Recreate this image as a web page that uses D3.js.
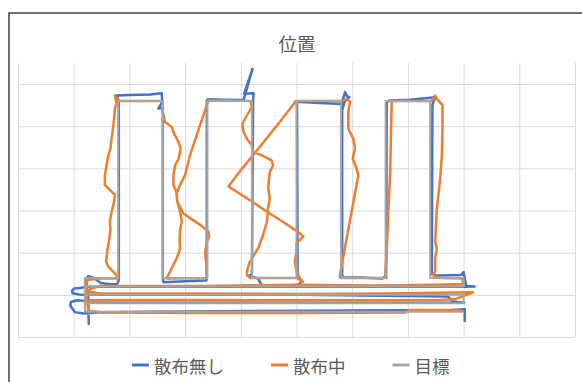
<!DOCTYPE html>
<html><head><meta charset="utf-8">
<script src="https://cdn.jsdelivr.net/npm/d3@7"></script>
<style>html,body{margin:0;padding:0;background:#fff;} svg{display:block;}</style>
</head><body>
<svg id="c" width="582" height="382"></svg>
<script>
// ---------- data ----------
const chartTitle = "位置";
const seriesNames = ["散布無し", "散布中", "目標"];
const seriesColors = ["#4472C4", "#ED7D31", "#A5A5A5"];
const xDomain = [0, 10];
const yDomain = [0, 6.5];
const xTicks = [0, 1, 2, 3, 4, 5, 6, 7, 8, 9, 10];
const yTicks = [0, 1, 2, 3, 4, 5, 6];

// 散布無し
const blueX = [8.02,8.02,7.79,5.06,2.37,1.47,1.18,1.02,0.94,0.95,1.06,1.26,1.27,1.26,1.23,1.22,1.26,1.36,1.49,1.65,
  1.78,1.81,1.81,1.77,2.01,2.37,2.58,2.59,2.52,2.60,2.60,2.61,3.00,3.38,3.39,3.39,3.41,3.72,4.01,4.05,
  4.21,4.06,4.23,4.22,4.20,4.15,4.31,4.36,4.40,4.88,5.06,5.09,5.02,5.01,4.98,5.42,5.81,5.83,5.87,5.91,
  5.95,5.87,5.82,5.82,5.78,6.14,6.55,6.61,6.62,6.68,7.04,7.49,7.44,7.43,7.52,7.96,8.00,8.03,8.05,8.20,
  8.01,5.06,1.22,1.11,1.01,0.97,0.98,1.10,1.22,5.06,7.72,7.81,8.01,5.06,1.22];
const blueY = [0.38,0.66,0.64,0.62,0.60,0.59,0.56,0.59,0.74,0.83,0.87,0.85,0.31,0.93,1.16,1.38,1.44,1.40,1.28,1.25,
  1.26,1.35,5.60,5.73,5.74,5.75,5.78,5.58,5.42,5.43,1.40,1.30,1.32,1.34,1.40,5.60,5.64,5.63,5.62,5.62,
  6.36,5.77,5.78,5.60,1.49,1.45,1.39,1.26,1.20,1.21,1.25,1.35,1.40,5.58,5.58,5.55,5.53,5.62,5.81,5.71,
  5.69,5.60,5.39,1.45,1.42,1.41,1.39,1.47,5.58,5.61,5.63,5.69,5.50,1.49,1.46,1.47,1.54,1.33,1.21,1.20,
  1.19,1.19,1.19,1.16,1.15,1.10,1.04,1.01,1.00,1.00,0.96,0.84,0.81,0.81,0.81];

// 散布中
const orangeX = [7.97,7.79,7.04,6.95,5.06,3.27,1.54,1.26,1.23,1.24,1.47,1.80,1.74,1.62,1.58,1.60,1.64,1.66,1.65,1.68,
  1.72,1.74,1.65,1.56,1.56,1.60,1.62,1.66,1.68,1.72,1.74,1.77,1.74,1.81,2.60,2.60,2.64,2.76,2.79,2.88,
  2.92,2.88,2.82,2.79,2.79,2.84,2.86,2.91,2.94,2.91,2.90,2.91,2.85,2.76,2.67,3.39,3.38,3.36,3.39,3.43,
  3.42,3.27,3.09,2.97,2.86,2.85,2.91,3.00,3.09,3.42,4.17,4.20,4.11,4.03,4.04,4.11,4.20,4.22,4.38,4.55,
  4.58,4.52,4.49,4.52,4.49,4.47,4.40,4.31,4.22,4.15,4.11,4.11,4.17,5.01,5.12,5.06,5.00,4.97,5.00,5.00,
  5.06,5.12,5.06,4.70,4.52,4.11,3.78,3.93,4.70,4.99,5.82,5.90,5.96,5.93,5.93,6.02,6.05,6.01,6.08,6.11,
  5.78,5.82,6.62,6.59,6.62,6.65,6.68,6.71,7.43,7.49,7.52,7.62,7.62,7.61,7.58,7.52,7.49,7.52,7.49,7.49,
  7.45,7.58,7.97,8.00,7.52,6.40,5.06,3.20,1.47,1.29,1.26,1.47,3.00,5.06,6.60,8.17,7.85,7.58,5.06,3.00,1.22];
const orangeY = [0.62,0.64,0.64,0.58,0.57,0.57,0.58,0.62,1.00,1.35,1.39,1.39,1.51,1.67,1.79,2.02,2.34,2.54,2.74,2.97,
  3.17,3.37,3.49,3.61,3.84,4.15,4.31,4.47,4.70,5.10,5.42,5.54,5.73,5.60,5.60,5.34,5.10,4.98,4.86,4.63,
  4.46,4.22,4.07,3.84,3.61,3.45,3.21,2.97,2.74,2.54,2.30,2.10,1.87,1.63,1.39,1.40,1.71,2.02,2.26,2.38,
  2.50,2.66,2.82,2.93,3.21,3.41,3.61,3.84,4.32,5.62,5.60,5.46,5.26,5.06,4.90,4.70,4.55,4.39,4.31,4.19,
  4.07,3.91,3.53,3.29,3.05,2.74,2.42,2.10,1.91,1.75,1.55,1.47,1.40,1.40,1.31,1.39,1.55,1.79,2.02,2.22,
  2.30,2.38,2.46,2.78,2.93,3.29,3.57,3.84,5.10,5.60,5.60,5.65,5.58,5.34,4.94,4.70,4.47,4.23,3.99,3.84,
  1.47,1.40,1.40,1.51,2.02,3.05,3.84,5.60,5.60,5.73,5.65,5.50,4.94,4.31,3.76,3.05,2.26,2.10,1.87,1.55,
  1.47,1.40,1.39,1.26,1.24,1.22,1.24,1.21,1.21,1.14,1.08,1.03,1.03,1.02,1.03,1.06,0.90,0.88,0.87,0.88,0.87];

// 目標
const targetX = [8.0,1.2,1.2,1.8,1.8,2.6,2.6,3.4,3.4,4.2,4.2,5.0,5.0,5.8,5.8,6.6,6.6,7.4,7.4,8.0,8.0,1.2,1.2,8.0,8.0,1.2];
const targetY = [0.6,0.6,1.4,1.4,5.6,5.6,1.4,1.4,5.6,5.6,1.4,1.4,5.6,5.6,1.4,1.4,5.6,5.6,1.4,1.4,1.2,1.2,1.0,1.0,0.8,0.8];

// ---------- drawing ----------
const W = 582, H = 382;
const plot = {left: 18, right: 575, top: 63, bottom: 337};
const svg = d3.select("#c");
const font = "'Noto Sans CJK JP','Noto Sans',sans-serif";
const textColor = "#595959";

svg.append("rect").attr("width", W).attr("height", H).attr("fill", "#fff");
svg.append("rect").attr("x", 9).attr("y", 13).attr("width", W + 20).attr("height", H + 20)
  .attr("fill", "none").attr("stroke", "#404040").attr("stroke-width", 1.5);

const x = d3.scaleLinear().domain(xDomain).range([plot.left, plot.right]);
const y = d3.scaleLinear().domain(yDomain).range([plot.bottom, plot.top]);

const gx = svg.append("g").attr("transform", `translate(0,${plot.bottom})`)
  .call(d3.axisBottom(x).tickValues(xTicks).tickSize(-(plot.bottom - plot.top)).tickFormat(""));
gx.select(".domain").remove();
gx.selectAll("line").attr("stroke", "#D9D9D9").attr("stroke-width", 1);

const gy = svg.append("g").attr("transform", `translate(${plot.left},0)`)
  .call(d3.axisLeft(y).tickValues(yTicks).tickSize(-(plot.right - plot.left)).tickFormat(""));
gy.select(".domain").remove();
gy.selectAll("line").attr("stroke", "#D9D9D9").attr("stroke-width", 1);

const line = d3.line().x(d => x(d[0])).y(d => y(d[1]));
const series = [
  {pts: d3.zip(blueX, blueY), color: seriesColors[0], w: 2.5},
  {pts: d3.zip(orangeX, orangeY), color: seriesColors[1], w: 2.5},
  {pts: d3.zip(targetX, targetY), color: seriesColors[2], w: 2}
];
series.forEach(s => {
  svg.append("path").attr("d", line(s.pts)).attr("fill", "none")
    .attr("stroke", s.color).attr("stroke-width", s.w)
    .attr("stroke-linejoin", "round").attr("stroke-linecap", "round");
});

svg.append("text").attr("x", 297).attr("y", 43).attr("text-anchor", "middle")
  .attr("dominant-baseline", "central").attr("font-family", font).attr("font-size", 18.5)
  .attr("fill", textColor).text(chartTitle);

const leg = svg.append("g");
let cx = 132;
seriesNames.forEach((name, i) => {
  leg.append("line").attr("x1", cx).attr("x2", cx + 17).attr("y1", 365).attr("y2", 365)
    .attr("stroke", seriesColors[i]).attr("stroke-width", 3);
  const t = leg.append("text").attr("x", cx + 22).attr("y", 365).attr("dominant-baseline", "central")
    .attr("font-family", font).attr("font-size", 17.5).attr("fill", textColor).text(name);
  cx += 22 + t.node().getComputedTextLength() + 47;
});
</script>
</body></html>
